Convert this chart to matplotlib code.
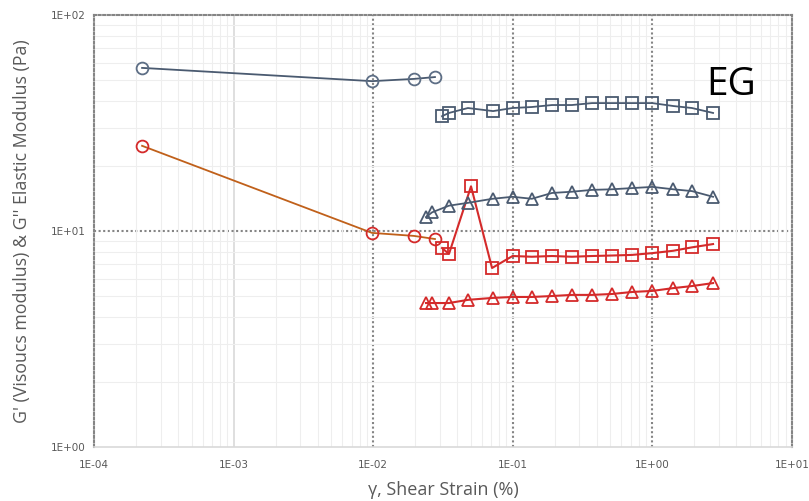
import matplotlib
matplotlib.use("Agg")
import matplotlib.pyplot as plt
from matplotlib.ticker import LogLocator, NullFormatter

# ---- data ----
# Sample 1: circles
circ_strain = [2.21e-4, 9.8e-3, 0.0196, 0.0277]
circ_gp = [56.9, 49.4, 50.6, 51.6]          # G' (blue-gray circles)
circ_gpp = [24.8, 9.8, 9.49, 9.18]          # G'' (red circles, orange line)

# Sample 2: squares
sq_strain = [0.0311, 0.0349, 0.0477, 0.0722, 0.0996, 0.137, 0.191, 0.265,
             0.369, 0.514, 0.714, 1.0, 1.41, 1.92, 2.72]
sq_gp = [34.0, 35.2, 37.1, 35.9, 37.1, 37.5, 38.3, 38.3,
         39.1, 39.1, 39.1, 39.1, 37.9, 37.1, 35.2]
sq_red_strain = [0.0311, 0.0349, 0.0502, 0.0710, 0.0996, 0.137, 0.191, 0.265,
                 0.369, 0.514, 0.714, 1.0, 1.41, 1.92, 2.72]
sq_gpp = [8.34, 7.83, 16.1, 6.74, 7.66, 7.6, 7.66, 7.6,
          7.66, 7.7, 7.75, 7.9, 8.1, 8.4, 8.7]

# Sample 3: triangles
tri_strain = [0.0239, 0.0264, 0.0349, 0.0477, 0.0716, 0.0996, 0.137, 0.191,
              0.265, 0.369, 0.514, 0.714, 1.0, 1.41, 1.92, 2.72]
tri_gp = [11.6, 12.2, 13.1, 13.5, 14.1, 14.4, 14.1, 15.0,
          15.2, 15.5, 15.6, 15.8, 16.0, 15.6, 15.3, 14.4]
tri_gpp = [4.64, 4.64, 4.64, 4.80, 4.90, 4.95, 4.95, 5.00,
           5.06, 5.06, 5.11, 5.22, 5.28, 5.44, 5.56, 5.74]

x_ticks = [1e-4, 1e-3, 1e-2, 1e-1, 1e0, 1e1]
x_tick_labels = ["1E-04", "1E-03", "1E-02", "1E-01", "1E+00", "1E+01"]
y_ticks = [1e0, 1e1, 1e2]
y_tick_labels = ["1E+00", "1E+01", "1E+02"]

BLUE = "#4a5a70"
RED = "#d42a2a"
ORANGE = "#c0601a"
GRAY_TXT = "#595959"

fig = plt.figure(figsize=(8.09, 5.01), dpi=100)
ax = fig.add_axes([94 / 809, 1 - 447 / 501, 698 / 809, 432 / 501])
ax.set_xscale("log")
ax.set_yscale("log")
ax.set_xlim(1e-4, 1e1)
ax.set_ylim(1e0, 1e2)

# minor grid
ax.xaxis.set_minor_locator(LogLocator(base=10, subs=range(2, 10), numticks=20))
ax.yaxis.set_minor_locator(LogLocator(base=10, subs=range(2, 10), numticks=20))
ax.xaxis.set_minor_formatter(NullFormatter())
ax.yaxis.set_minor_formatter(NullFormatter())
ax.grid(which="minor", color="#eeeeee", linewidth=0.8, linestyle="-")

# major grid lines (dotted dark gray, except 1E-03 which is solid light gray)
dot = (0, (1, 1.2))
for xv in [1e-2, 1e-1, 1e0]:
    ax.axvline(xv, color="#858585", linewidth=1.5, linestyle=dot, zorder=1)
ax.axvline(1e-3, color="#d9d9d9", linewidth=1.2, linestyle="-", zorder=1)
ax.axhline(1e1, color="#858585", linewidth=1.5, linestyle=dot, zorder=1)

for side in ["left", "right", "top"]:
    ax.spines[side].set_color("#858585")
    ax.spines[side].set_linewidth(1.5)
    ax.spines[side].set_linestyle(dot)
ax.spines["bottom"].set_color("#d9d9d9")
ax.spines["bottom"].set_linewidth(1.2)

ax.set_xticks(x_ticks)
ax.set_xticklabels(x_tick_labels)
ax.set_yticks(y_ticks)
ax.set_yticklabels(y_tick_labels)
ax.tick_params(which="both", length=0)
ax.tick_params(axis="x", pad=9, labelsize=7.5, labelcolor=GRAY_TXT)
ax.tick_params(axis="y", pad=6, labelsize=7.5, labelcolor=GRAY_TXT)
for lab in ax.get_xticklabels() + ax.get_yticklabels():
    lab.set_family(["Liberation Sans Narrow", "DejaVu Sans"])

ms = 8.5
mew = 1.3
# circles
ax.plot(circ_strain, circ_gp, color=BLUE, linewidth=1.3, marker="o",
        markersize=ms, markerfacecolor="none", markeredgecolor="#5d6e85",
        markeredgewidth=mew, zorder=3)
ax.plot(circ_strain, circ_gpp, color=ORANGE, linewidth=1.3, marker="o",
        markersize=ms, markerfacecolor="none", markeredgecolor=RED,
        markeredgewidth=mew, zorder=3)
# squares
ax.plot(sq_strain, sq_gp, color=BLUE, linewidth=1.3, marker="s",
        markersize=ms, markerfacecolor="none", markeredgecolor=BLUE,
        markeredgewidth=mew, zorder=3)
ax.plot(sq_red_strain, sq_gpp, color=RED, linewidth=1.5, marker="s",
        markersize=ms, markerfacecolor="none", markeredgecolor=RED,
        markeredgewidth=mew, zorder=3)
# triangles
ax.plot(tri_strain, tri_gp, color=BLUE, linewidth=1.3, marker="^",
        markersize=ms, markerfacecolor="none", markeredgecolor=BLUE,
        markeredgewidth=mew, zorder=3)
ax.plot(tri_strain, tri_gpp, color=RED, linewidth=1.5, marker="^",
        markersize=ms, markerfacecolor="none", markeredgecolor=RED,
        markeredgewidth=mew, zorder=3)

ax.set_xlabel("γ, Shear Strain (%)", fontsize=13, color=GRAY_TXT,
              family=["Open Sans", "DejaVu Sans"], labelpad=6)
ax.set_ylabel("G' (Visoucs modulus) & G'' Elastic Modulus (Pa)", fontsize=12.8,
              color=GRAY_TXT, family=["Open Sans", "DejaVu Sans"])
ax.yaxis.set_label_coords(-(94 - 31) / 698, 0.5)
ax.xaxis.set_label_coords(0.5, -(490 - 447) / 432)
ax.xaxis.label.set_va("center")

fig.text(706 / 809, 1 - 85 / 501, "EG", fontsize=28, color="black",
         family=["Open Sans", "DejaVu Sans"], ha="left", va="center")

fig.savefig("out.png", dpi=100)
